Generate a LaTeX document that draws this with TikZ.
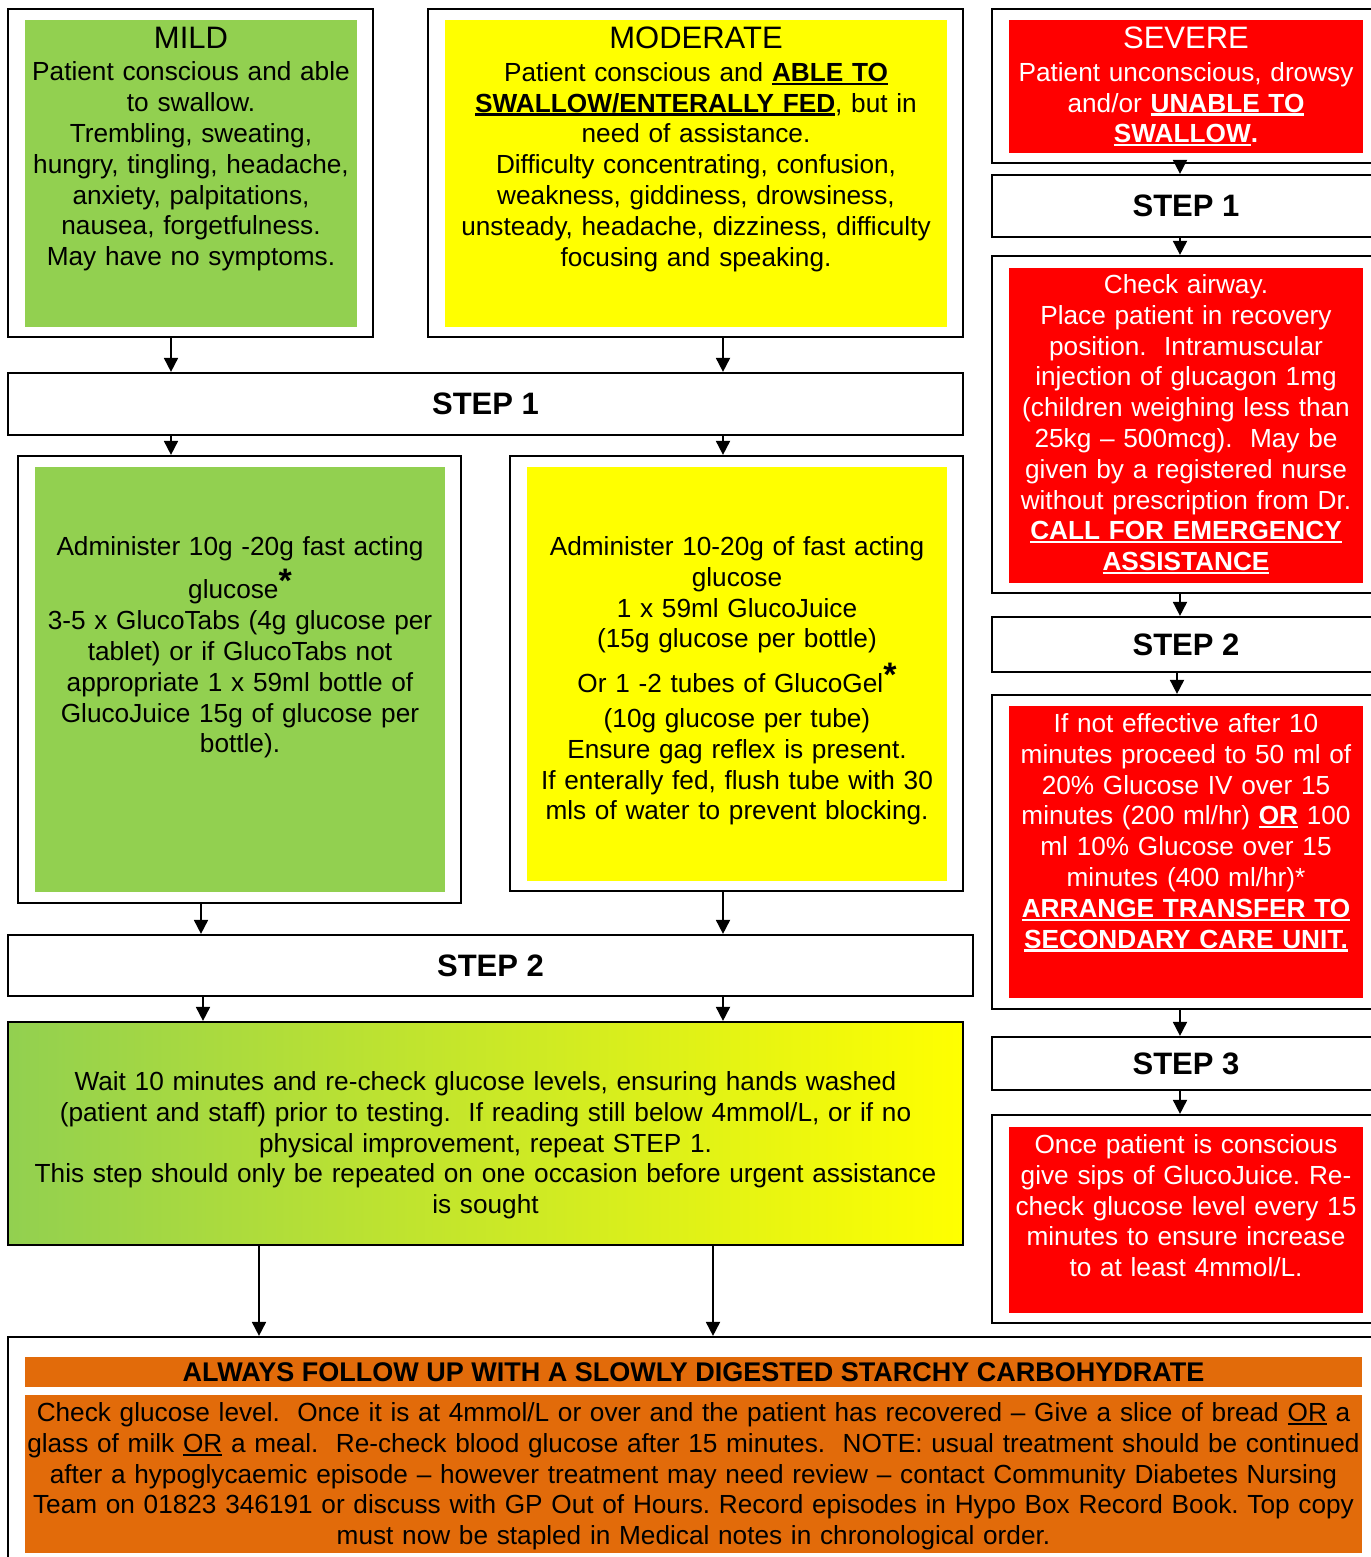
\documentclass[tikz,border=0pt]{standalone}
\usepackage{fontspec}
\setmainfont{Liberation Sans}
\usetikzlibrary{arrows.meta,positioning}
\definecolor{mildgreen}{HTML}{92D050}
\definecolor{modyellow}{HTML}{FFFF00}
\definecolor{sevred}{HTML}{FF0000}
\definecolor{starchorange}{HTML}{E26B0A}
\frenchspacing
\newcommand{\bodysize}{\fontsize{26.2}{30.8}\selectfont}
\newcommand{\stepsize}{\fontsize{31}{36}\selectfont}
\newcommand{\ulbf}[1]{\leavevmode\setbox0=\hbox{\bfseries #1}\rlap{\rule[-3.5pt]{\wd0}{2.2pt}}\box0\relax}
\newcommand{\ulnm}[1]{\leavevmode\setbox0=\hbox{#1}\rlap{\rule[-3.5pt]{\wd0}{1.6pt}}\box0\relax}
\newcommand{\glustar}{\raisebox{6pt}{\fontsize{34}{34}\selectfont\bfseries *}}
\begin{document}
\begin{tikzpicture}[x=1pt,y=-1pt,
	outer/.style={draw,line width=2.2pt,fill=white,inner sep=0pt},
	panel/.style={inner sep=0pt},
	txt/.style={align=center,inner sep=0pt,font=\bodysize},
	steplabel/.style={outer,font=\stepsize\bfseries},
	arr/.style={line width=1.8pt,-{Triangle[length=14pt,width=14pt]}}]
	\useasboundingbox (0,0) rectangle (1370,1557);
	
	\node[outer,minimum width=365pt,minimum height=328pt] (mild) at (190.5,173) {};
	\node[panel,fill=mildgreen,minimum width=332pt,minimum height=307pt] (mildbg) at (191,173.5) {};
	\node[txt,text width=332pt,below=6.8pt of mildbg.north] (mildtxt) {{\stepsize MILD}\\[2pt]
		Patient conscious and able\\
		to swallow.\\
		Trembling, sweating,\\
		hungry, tingling, headache,\\
		anxiety, palpitations,\\
		nausea, forgetfulness.\\
		May have no symptoms.};
	
	\node[outer,minimum width=535pt,minimum height=328pt] (mod) at (695.5,173) {};
	\node[panel,fill=modyellow,minimum width=502pt,minimum height=307pt] (modbg) at (696,173.5) {};
	\node[txt,text width=502pt,below=6.8pt of modbg.north] (modtxt) {{\stepsize MODERATE}\\[2pt]
		Patient conscious and \ulbf{ABLE TO}\\
		\ulbf{SWALLOW/ENTERALLY FED}, but in\\
		need of assistance.\\
		Difficulty concentrating, confusion,\\
		weakness, giddiness, drowsiness,\\
		unsteady, headache, dizziness, difficulty\\
		focusing and speaking.};
	
	\node[outer,minimum width=388pt,minimum height=154pt] (sev) at (1186,86) {};
	\node[panel,fill=sevred,minimum width=354pt,minimum height=133pt] (sevbg) at (1186,86.5) {};
	\node[txt,text=white,text width=354pt,below=6.8pt of sevbg.north] (sevtxt) {{\stepsize SEVERE}\\[2pt]
		Patient unconscious, drowsy\\
		and/or \ulbf{UNABLE TO}\\
		\ulbf{SWALLOW}\textbf{.}};
	
	\node[steplabel,minimum width=955pt,minimum height=62pt] (stepA) at (485.5,404) {STEP 1};
	\node[steplabel,minimum width=388pt,minimum height=62pt] (stepSa) at (1186,206) {STEP 1};
	
	\node[outer,minimum width=388pt,minimum height=337pt] (airway) at (1186,424.5) {};
	\node[panel,fill=sevred,minimum width=354pt,minimum height=315pt] (airwaybg) at (1186,425.5) {};
	\node[txt,text=white,text width=354pt,below=6.5pt of airwaybg.north] (airwaytxt) {Check airway.\\
		Place patient in recovery\\
		position.\ \ Intramuscular\\
		injection of glucagon 1mg\\
		(children weighing less than\\
		25kg – 500mcg).\ \ May be\\
		given by a registered nurse\\
		without prescription from Dr.\\
		\ulbf{CALL FOR EMERGENCY}\\
		\ulbf{ASSISTANCE}};
	
	\node[steplabel,minimum width=388pt,minimum height=55pt] (stepSb) at (1186,644.5) {STEP 2};
	
	\node[outer,minimum width=388pt,minimum height=314pt] (iv) at (1186,852) {};
	\node[panel,fill=sevred,minimum width=354pt,minimum height=292pt] (ivbg) at (1186,852) {};
	\node[txt,text=white,text width=354pt,below=7.5pt of ivbg.north] (ivtxt) {If not effective after 10\\
		minutes proceed to 50 ml of\\
		20\% Glucose IV over 15\\
		minutes (200 ml/hr) \ulbf{OR} 100\\
		ml 10\% Glucose over 15\\
		minutes (400 ml/hr)*\\
		\ulbf{ARRANGE TRANSFER TO}\\
		\ulbf{SECONDARY CARE UNIT.}};
	
	\node[steplabel,minimum width=388pt,minimum height=53pt] (stepSc) at (1186,1063.5) {STEP 3};
	
	\node[outer,minimum width=388pt,minimum height=208pt] (cons) at (1186,1219) {};
	\node[panel,fill=sevred,minimum width=354pt,minimum height=186pt] (consbg) at (1186,1220) {};
	\node[txt,text=white,text width=354pt,below=7.5pt of consbg.north] (constxt) {Once patient is conscious\\
		give sips of GlucoJuice. Re-\\
		check glucose level every 15\\
		minutes to ensure increase\\
		to at least 4mmol/L.};
	
	\node[outer,minimum width=443pt,minimum height=447pt] (tabs) at (239.5,679.5) {};
	\node[panel,fill=mildgreen,minimum width=410pt,minimum height=425pt] (tabsbg) at (240,679.5) {};
	\node[txt,text width=410pt,below=69.5pt of tabsbg.north] (tabstxt) {Administer 10g -20g fast acting\\[7.5pt]
		glucose\glustar\\
		3-5 x GlucoTabs (4g glucose per\\
		tablet) or if GlucoTabs not\\
		appropriate 1 x 59ml bottle of\\
		GlucoJuice 15g of glucose per\\
		bottle).};
	
	\node[outer,minimum width=453pt,minimum height=435pt] (juice) at (736.5,673.5) {};
	\node[panel,fill=modyellow,minimum width=420pt,minimum height=414pt] (juicebg) at (737,674) {};
	\node[txt,text width=420pt,below=69.5pt of juicebg.north] (juicetxt) {Administer 10-20g of fast acting\\
		glucose\\
		1 x 59ml GlucoJuice\\
		(15g glucose per bottle)\\[9pt]
		Or 1 -2 tubes of GlucoGel\glustar\\[4pt]
		(10g glucose per tube)\\
		Ensure gag reflex is present.\\
		If enterally fed, flush tube with 30\\
		mls of water to prevent blocking.};
	
	\node[steplabel,minimum width=965pt,minimum height=61pt] (stepB) at (490.5,965.5) {STEP 2};
	
	\node[outer,left color=mildgreen,right color=modyellow,minimum width=955pt,minimum height=223pt] (wait) at (485.5,1133.5) {};
	\node[txt,text width=955pt,below=50.5pt of wait.north] (waittxt) {Wait 10 minutes and re-check glucose levels, ensuring hands washed\\
		(patient and staff) prior to testing.\ \ If reading still below 4mmol/L, or if no\\
		physical improvement, repeat STEP 1.\\
		This step should only be repeated on one occasion before urgent assistance\\
		is sought};
	
	\node[outer,minimum width=1372pt,minimum height=243pt] (follow) at (694,1458.5) {};
	\node[panel,fill=starchorange,minimum width=1337pt,minimum height=30pt,font=\fontsize{27}{31}\selectfont\bfseries] (starch) at (693.5,1372) {ALWAYS FOLLOW UP WITH A SLOWLY DIGESTED STARCHY CARBOHYDRATE};
	\node[panel,fill=starchorange,minimum width=1337pt,minimum height=158pt] (advicebg) at (693.5,1474) {};
	\node[txt,text width=1360pt,below=7.5pt of advicebg.north] (advicetxt) {Check glucose level.\ \ Once it is at 4mmol/L or over and the patient has recovered – Give a slice of bread \ulnm{OR} a\\
		glass of milk \ulnm{OR} a meal.\ \ Re-check blood glucose after 15 minutes.\ \ NOTE: usual treatment should be continued\\
		after a hypoglycaemic episode – however treatment may need review – contact Community Diabetes Nursing\\
		Team on 01823 346191 or discuss with GP Out of Hours. Record episodes in Hypo Box Record Book. Top copy\\
		must now be stapled in Medical notes in chronological order.};
	
	\draw[arr] (mild.south -| 171,0) -- (stepA.north -| 171,0);
	\draw[arr] (mod.south -| 723,0) -- (stepA.north -| 723,0);
	\draw[arr] (stepA.south -| 171,0) -- (tabs.north -| 171,0);
	\draw[arr] (stepA.south -| 723,0) -- (juice.north -| 723,0);
	\draw[arr] (tabs.south -| 201,0) -- (stepB.north -| 201,0);
	\draw[arr] (juice.south -| 723,0) -- (stepB.north -| 723,0);
	\draw[arr] (stepB.south -| 203,0) -- (wait.north -| 203,0);
	\draw[arr] (stepB.south -| 723,0) -- (wait.north -| 723,0);
	\draw[arr] (wait.south -| 259,0) -- (follow.north -| 259,0);
	\draw[arr] (wait.south -| 713,0) -- (follow.north -| 713,0);
	
	\draw[arr] (sev.south -| 1180,0) -- (stepSa.north -| 1180,0);
	\draw[arr] (stepSa.south -| 1180,0) -- (airway.north -| 1180,0);
	\draw[arr] (airway.south -| 1180,0) -- (stepSb.north -| 1180,0);
	\draw[arr] (stepSb.south -| 1177,0) -- (iv.north -| 1177,0);
	\draw[arr] (iv.south -| 1180,0) -- (stepSc.north -| 1180,0);
	\draw[arr] (stepSc.south -| 1180,0) -- (cons.north -| 1180,0);
\end{tikzpicture}
\end{document}
